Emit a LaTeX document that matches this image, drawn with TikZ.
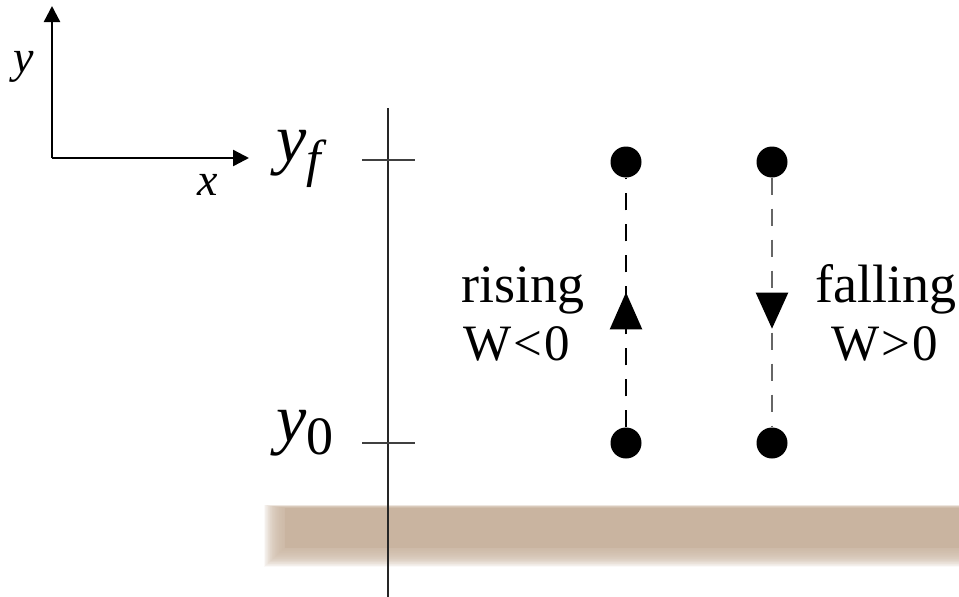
\documentclass[tikz,border=0pt]{standalone}
\usepackage{fontspec}
\setmainfont{Liberation Serif}
\usetikzlibrary{arrows.meta,decorations.markings}
\definecolor{ground}{RGB}{201,180,160}
\tikzset{
  ax/.style={line width=2.4pt,-{Triangle[length=16pt,width=16pt]}},
  dot/.style={circle,fill=black,inner sep=0pt,minimum size=31pt},
  vline/.style={line width=2.2pt,black!85},
  tickline/.style={line width=1.8pt,black!75},
  path1/.style={line width=2.2pt,dash pattern=on 17pt off 14pt},
  lbl/.style={inner sep=0pt,anchor=base west,font=\fontsize{51}{60}\selectfont},
  axlbl/.style={inner sep=0pt,anchor=base,font=\fontsize{46}{50}\selectfont\itshape},
}
\begin{document}
\begin{tikzpicture}[x=1pt,y=-1pt]
\useasboundingbox (0,0) rectangle (959,597);
% ground band (soft edges)
\foreach \i in {0,...,29}{
  \fill[ground,opacity=0.08] (264+0.7*\i,505+0.1*\i) rectangle (962,567-0.65*\i);
}
\fill[ground] (285,508) rectangle (962,548);
% coordinate axes
\coordinate (O) at (52,158);
\coordinate (Ytip) at (52,6);
\coordinate (Xtip) at (249,158);
\draw[ax] (O) -- (Ytip);
\draw[ax] (O) -- (Xtip);
\node[axlbl] (ylab) at (24,72) {y};
\node[axlbl] (xlab) at (208,195) {x};
% vertical axis
\coordinate (Vtop) at (388,108);
\coordinate (Vbot) at (388,597);
\draw[vline] (Vtop) -- (Vbot);
\coordinate (tfl) at (362,160); \coordinate (tfr) at (415,160);
\coordinate (t0l) at (362,443); \coordinate (t0r) at (415,443);
\draw[tickline] (tfl) -- (tfr);
\draw[tickline] (t0l) -- (t0r);
\node[inner sep=0pt,anchor=base west,font=\fontsize{68}{70}\selectfont] (yf) at (276,161)
  {\textit{y}\raisebox{-15pt}{\fontsize{52}{55}\selectfont\textit{f}}};
\node[inner sep=0pt,anchor=base west,font=\fontsize{68}{70}\selectfont] (y0) at (276,441)
  {\textit{y}\raisebox{-13pt}{\fontsize{54}{55}\selectfont 0}};
% dots
\node[dot] (a1) at (626,162) {};
\node[dot] (a0) at (626,443) {};
\node[dot] (b1) at (772,162) {};
\node[dot] (b0) at (772,443) {};
\draw[path1,postaction={decorate},decoration={markings,
   mark=at position 135pt with {\arrow{Triangle[length=37pt,width=32pt]}}}] (a0) -- (a1);
\draw[path1,black!60,postaction={decorate},decoration={markings,
   mark=at position 151pt with {\arrow[black]{Triangle[length=36pt,width=32pt]}}}] (b1) -- (b0);
% labels
\node[lbl,font=\fontsize{54}{60}\selectfont] (r1) at (461,302) {rising};
\node[lbl] (r2) at (463,360) {W\kern2pt<\kern2pt0};
\node[lbl,anchor=base,font=\fontsize{54}{60}\selectfont] (f1) at (886,302) {falling};
\node[lbl,anchor=base] (f2) at (885,360) {W\kern2pt>\kern2pt0};
\end{tikzpicture}
\end{document}
